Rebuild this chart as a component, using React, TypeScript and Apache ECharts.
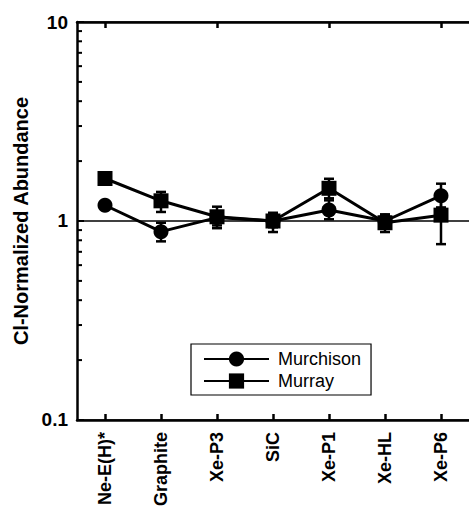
import React, { useEffect, useRef } from "react";
import * as echarts from "echarts";

const categories = ["Ne-E(H)*", "Graphite", "Xe-P3", "SiC", "Xe-P1", "Xe-HL", "Xe-P6"];
const murchison = [1.2, 0.884, 1.04, 1.0, 1.135, 1.0, 1.34];
const murray = [1.635, 1.263, 1.05, 1.0, 1.46, 0.98, 1.07];
const murchisonLow = [null, 0.79, 0.95, 0.93, 1.02, 0.93, 1.17];
const murchisonHigh = [null, 0.98, 1.12, 1.07, 1.27, 1.07, 1.54];
const murrayLow = [null, 1.11, 0.92, 0.88, 1.3, 0.88, 0.765];
const murrayHigh = [null, 1.4, 1.18, 1.1, 1.63, 1.08, 1.35];
const yMin = 0.1;
const yMax = 10;
const minorTickValues = [0.2, 0.3, 0.4, 0.5, 0.6, 0.7, 0.8, 0.9, 2, 3, 4, 5, 6, 7, 8, 9];

const FONT = "Liberation Sans";

function errData(low: (number | null)[], high: (number | null)[]) {
  const out: number[][] = [];
  low.forEach((l, i) => {
    if (l != null && high[i] != null) out.push([i, l, high[i] as number]);
  });
  return out;
}

function errRender(params: any, api: any) {
  const x = api.value(0);
  const pLo = api.coord([x, api.value(1)]);
  const pHi = api.coord([x, api.value(2)]);
  const hw = 5;
  const st = { stroke: "#000", lineWidth: 2.5 };
  return {
    type: "group",
    children: [
      { type: "line", shape: { x1: pLo[0], y1: pLo[1], x2: pHi[0], y2: pHi[1] }, style: st },
      { type: "line", shape: { x1: pLo[0] - hw, y1: pLo[1], x2: pLo[0] + hw, y2: pLo[1] }, style: st },
      { type: "line", shape: { x1: pHi[0] - hw, y1: pHi[1], x2: pHi[0] + hw, y2: pHi[1] }, style: st },
    ],
  };
}

function minorRender(params: any, api: any) {
  const y = api.coord([0, api.value(1)])[1];
  const x0 = params.coordSys.x;
  return {
    type: "line",
    shape: { x1: x0, y1: y, x2: x0 + 5, y2: y },
    style: { stroke: "#000", lineWidth: 2 },
  };
}

export default function App() {
  const ref = useRef<HTMLDivElement>(null);
  useEffect(() => {
    if (!ref.current) return;
    const chart = echarts.init(ref.current, null, { renderer: "svg" });
    const axisLine = { show: true, lineStyle: { color: "#000", width: 2.5 } };
    chart.setOption({
      animation: false,
      backgroundColor: "#fff",
      grid: { left: 77, top: 22, right: -5, bottom: 88, containLabel: false },
      legend: {
        data: ["Murchison", "Murray"],
        orient: "vertical",
        left: 191,
        top: 344,
        itemWidth: 65,
        itemHeight: 19,
        itemGap: 4,
        padding: [6, 10, 5, 12],
        borderColor: "#000",
        borderWidth: 1.2,
        backgroundColor: "#fff",
        lineStyle: { width: 2 },
        textStyle: { fontFamily: FONT, fontSize: 18, color: "#000", padding: [0, 0, 0, 4] },
      },
      xAxis: [
        {
          type: "category",
          data: categories,
          position: "bottom",
          axisLine,
          axisTick: { show: true, inside: true, alignWithLabel: true, length: 6, lineStyle: { color: "#000", width: 2.5 } },
          axisLabel: { rotate: 90, margin: 12, fontFamily: FONT, fontWeight: "bold", fontSize: 18, color: "#000" },
          splitLine: { show: false },
        },
        {
          type: "category",
          data: categories,
          position: "top",
          axisLine,
          axisTick: { show: true, inside: true, alignWithLabel: true, length: 6, lineStyle: { color: "#000", width: 2.5 } },
          axisLabel: { show: false },
          splitLine: { show: false },
        },
      ],
      yAxis: {
        type: "log",
        logBase: 10,
        min: yMin,
        max: yMax,
        name: "Cl-Normalized Abundance",
        nameLocation: "middle",
        nameGap: 34,
        nameTextStyle: { fontFamily: FONT, fontWeight: "bold", fontSize: 20, color: "#000" },
        axisLine,
        axisTick: { show: true, inside: true, length: 7, lineStyle: { color: "#000", width: 2 } },
        axisLabel: { margin: 9, fontFamily: FONT, fontWeight: "bold", fontSize: 19, color: "#000" },
        splitLine: { show: true, lineStyle: { color: "#000", width: 1.5 } },
        minorTick: { show: false },
      },
      series: [
        {
          type: "custom",
          renderItem: minorRender,
          data: minorTickValues.map((v) => [0, v]),
          encode: { x: 0, y: 1 },
          silent: true,
          clip: false,
          z: 1,
        },
        {
          type: "custom",
          renderItem: errRender,
          data: errData(murchisonLow, murchisonHigh),
          encode: { x: 0, y: [1, 2] },
          silent: true,
          z: 2,
        },
        {
          type: "custom",
          renderItem: errRender,
          data: errData(murrayLow, murrayHigh),
          encode: { x: 0, y: [1, 2] },
          silent: true,
          z: 2,
        },
        {
          name: "Murchison",
          type: "line",
          data: murchison,
          symbol: "circle",
          symbolSize: 15,
          lineStyle: { color: "#000", width: 3 },
          itemStyle: { color: "#000" },
          z: 3,
        },
        {
          name: "Murray",
          type: "line",
          data: murray,
          symbol: "rect",
          symbolSize: 15,
          lineStyle: { color: "#000", width: 3 },
          itemStyle: { color: "#000" },
          z: 3,
        },
      ],
    });
    return () => chart.dispose();
  }, []);
  return <div ref={ref} style={{ position: "absolute", left: 0, top: 0, width: 469, height: 509 }} />;
}
